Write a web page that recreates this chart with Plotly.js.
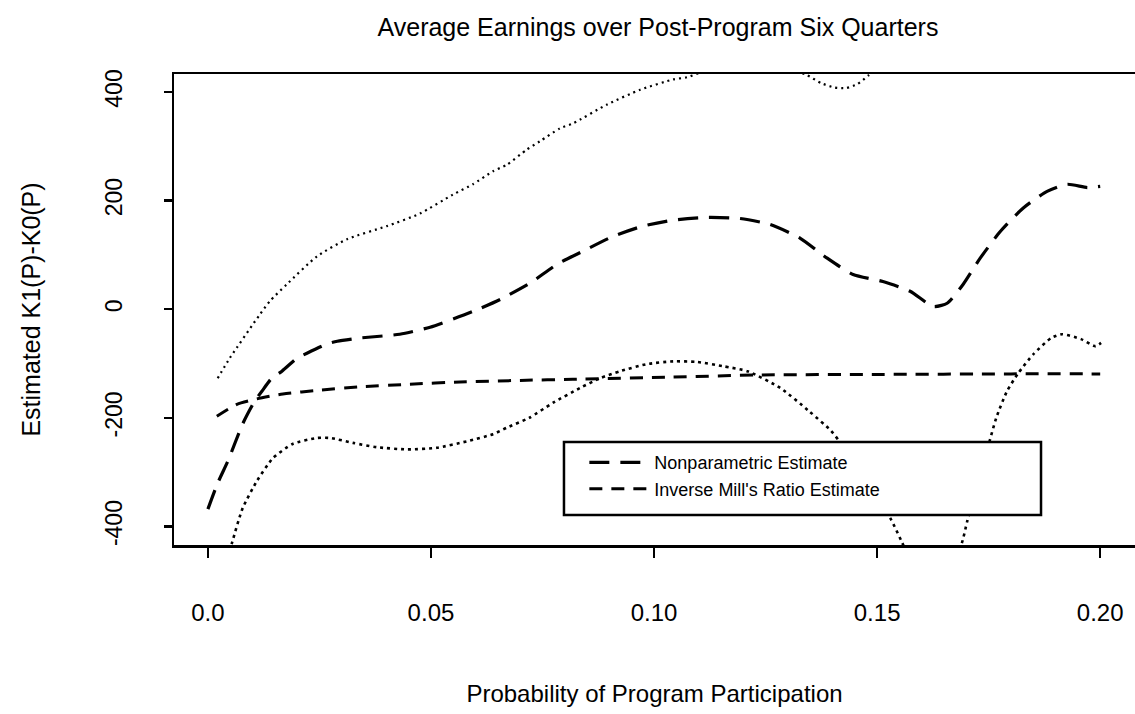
<!DOCTYPE html>
<html>
<head>
<meta charset="utf-8">
<script src="https://cdn.plot.ly/plotly-3.0.1.min.js"></script>
<style>
  html, body { margin: 0; padding: 0; background: #ffffff; overflow: hidden; }
  #chart { width: 1135px; height: 714px; }
</style>
</head>
<body>
<div id="chart"></div>
<script>
// ---- Data ----
const npX = [0, 0.0022, 0.0045, 0.0078, 0.0105, 0.0121, 0.0143, 0.0166, 0.02, 0.0222, 0.0267, 0.029, 0.034, 0.043, 0.0498, 0.0594, 0.0655, 0.0722, 0.0783, 0.0841, 0.0908, 0.0975, 0.1043, 0.1119, 0.1193, 0.126, 0.1327, 0.1388, 0.1446, 0.1513, 0.1574, 0.1626, 0.1657, 0.1693, 0.1731, 0.1776, 0.1827, 0.1881, 0.1926, 0.1971, 0.2];
const npY = [-368, -320, -279, -211, -169, -151, -127, -114, -90, -81, -64, -59, -53, -46, -33, -4, 18, 48, 83, 107, 134, 153, 164, 169, 167, 156, 131, 94, 64, 51, 33, 5, 11, 46, 94, 143, 186, 217, 230, 224, 226];

const upX = [0.0022, 0.0049, 0.0117, 0.0139, 0.0177, 0.0244, 0.0312, 0.0401, 0.0475, 0.0549, 0.0594, 0.0639, 0.067, 0.0715, 0.0744, 0.0789, 0.0818, 0.0895, 0.0969, 0.1043, 0.1074, 0.112, 0.12, 0.128, 0.134, 0.1375, 0.1405, 0.143, 0.1455, 0.148, 0.152];
const upY = [-127, -90, -9, 15, 46, 97, 129, 153, 176, 211, 230, 254, 266, 294, 309, 333, 342, 377, 404, 423, 427, 440, 450, 445, 432, 416, 408, 407, 414, 430, 460];

const loX = [0.004, 0.0054, 0.0078, 0.011, 0.0146, 0.019, 0.0244, 0.0274, 0.0325, 0.0379, 0.0446, 0.0513, 0.0581, 0.0639, 0.067, 0.072, 0.0774, 0.0834, 0.0879, 0.0924, 0.0984, 0.1043, 0.1096, 0.1155, 0.1209, 0.1283, 0.1348, 0.1397, 0.1415, 0.145, 0.149, 0.1529, 0.1554, 0.158, 0.162, 0.166, 0.1688, 0.1702, 0.1725, 0.1751, 0.1767, 0.1791, 0.1816, 0.185, 0.189, 0.1915, 0.1957, 0.1989, 0.2002];
const loY = [-470, -430, -366, -316, -274, -248, -237, -237, -246, -254, -258, -255, -243, -230, -218, -200, -172, -145, -127, -114, -101, -96, -97, -105, -114, -145, -188, -224, -243, -290, -340, -384, -426, -470, -500, -470, -435, -390, -320, -246, -200, -151, -118, -83, -53, -46, -55, -68, -62];

const imrX = [0.002, 0.0065, 0.011, 0.0168, 0.0251, 0.034, 0.0453, 0.0565, 0.07, 0.0818, 0.104, 0.123, 0.15, 0.18, 0.2];
const imrY = [-197, -175, -165, -156, -149, -143, -138, -134, -131, -129, -125, -121, -120, -119, -119];

const xTickVals = [0, 0.05, 0.1, 0.15, 0.2];
const xTickText = ["0.0", "0.05", "0.10", "0.15", "0.20"];
const yTickVals = [-400, -200, 0, 200, 400];
const yTickText = ["-400", "-200", "0", "200", "400"];

const seriesNames = ["Nonparametric Estimate", "Inverse Mill's Ratio Estimate"];
const chartTitle = "Average Earnings over Post-Program Six Quarters";
const xTitle = "Probability of Program Participation";
const yTitle = "Estimated K1(P)-K0(P)";

// ---- Chart ----
const FONT = "Liberation Sans, Arial, Helvetica, sans-serif";

const traces = [
  { x: upX, y: upY, mode: "lines", showlegend: false, hoverinfo: "skip",
    line: { color: "#000", width: 2.2, dash: "2px,4px", shape: "spline", smoothing: 0.6 } },
  { x: loX, y: loY, mode: "lines", showlegend: false, hoverinfo: "skip",
    line: { color: "#000", width: 2.6, dash: "3px,4px", shape: "spline", smoothing: 0.6 } },
  { x: npX, y: npY, mode: "lines", name: seriesNames[0],
    line: { color: "#000", width: 3.2, dash: "20px,11px", shape: "spline", smoothing: 0.6 } },
  { x: imrX, y: imrY, mode: "lines", name: seriesNames[1],
    line: { color: "#000", width: 3, dash: "13px,9px", shape: "spline", smoothing: 0.6 } }
];

const layout = {
  width: 1135, height: 714,
  paper_bgcolor: "#fff", plot_bgcolor: "#fff",
  font: { family: FONT, color: "#000", size: 22 },
  margin: { l: 174, r: 0, t: 74, b: 169, pad: 0 },
  title: { text: chartTitle, font: { family: FONT, size: 25, color: "#000" },
           xref: "container", x: 0.5797, xanchor: "center",
           yref: "container", y: 0.962, yanchor: "middle" },
  xaxis: {
    range: [-0.0076, 0.2078], autorange: false,
    showgrid: false, zeroline: false,
    showline: true, linecolor: "#000", linewidth: 2.5, mirror: true,
    ticks: "outside", ticklen: 10, tickwidth: 2.5, tickcolor: "#000",
    tickmode: "array", tickvals: xTickVals, ticktext: xTickText,
    tickfont: { family: FONT, size: 24, color: "#000" },
    ticklabelstandoff: 35,
    automargin: false,
    title: { text: xTitle, font: { family: FONT, size: 24, color: "#000" }, standoff: 60 }
  },
  yaxis: {
    range: [-434, 433], autorange: false,
    showgrid: false, zeroline: false,
    showline: true, linecolor: "#000", linewidth: 2.5, mirror: false,
    ticks: "outside", ticklen: 8, tickwidth: 2.5, tickcolor: "#000",
    tickmode: "array", tickvals: yTickVals, ticktext: yTickText,
    tickangle: -90,
    tickfont: { family: FONT, size: 23, color: "#000" },
    ticklabelstandoff: 32,
    automargin: false,
    title: { text: yTitle, font: { family: FONT, size: 25, color: "#000" }, standoff: 54 }
  },
  showlegend: true,
  legend: {
    x: 0.427, xanchor: "left", y: 0.214, yanchor: "top",
    bgcolor: "rgba(0,0,0,0)", borderwidth: 0,
    font: { family: FONT, size: 18, color: "#000" },
    itemwidth: 60, tracegroupgap: 0
  },
  shapes: [
    { type: "rect", xref: "paper", yref: "paper", layer: "above",
      x0: 0.4058, x1: 0.9022, y0: 0.0637, y1: 0.2187,
      fillcolor: "#fff", line: { color: "#000", width: 2.5 } }
  ]
};

Plotly.newPlot("chart", traces, layout, { staticPlot: true, displayModeBar: false });
</script>
</body>
</html>
